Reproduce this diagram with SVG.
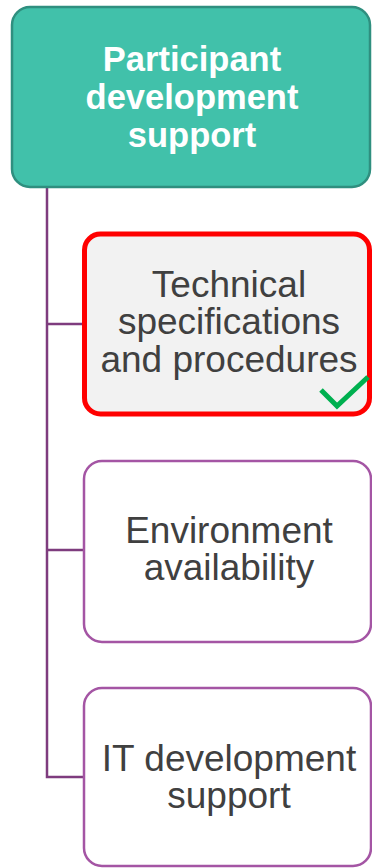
<svg xmlns="http://www.w3.org/2000/svg" width="372" height="868" viewBox="0 0 372 868">
<style>
.conn{fill:none;stroke:#7E3C7E;stroke-width:2.5}
.child{fill:#FFFFFF;stroke:#A455A4;stroke-width:2.5}
.t{font-family:"Liberation Sans",Arial,sans-serif;font-size:37px;fill:#404040;text-anchor:middle}
.h{font-family:"Liberation Sans",Arial,sans-serif;font-size:34.5px;font-weight:bold;fill:#FFFFFF;text-anchor:middle}
</style>
<rect width="372" height="868" fill="#FFFFFF"/>
<g id="connectors">
<path class="conn" d="M47,188 V777 H84"/>
<path class="conn" d="M47,324 H84"/>
<path class="conn" d="M47,550 H84"/>
</g>
<g id="root">
<rect x="12" y="7" width="358" height="180" rx="18" fill="#41C1AA" stroke="#2F8F7F" stroke-width="2.5"/>
<text class="h" x="192" y="71">Participant</text>
<text class="h" x="192" y="109">development</text>
<text class="h" x="192" y="147">support</text>
</g>
<g id="node-technical">
<rect x="84.5" y="234" width="285" height="180" rx="16" fill="#F2F2F2" stroke="#FF0000" stroke-width="5"/>
<text class="t" x="229" y="297">Technical</text>
<text class="t" x="229" y="334">specifications</text>
<text class="t" x="229" y="372">and procedures</text>
<path d="M321,390 L337,406 L368,377" fill="none" stroke="#00B050" stroke-width="5"/>
</g>
<g id="node-environment">
<rect class="child" x="84" y="461" width="287" height="181" rx="18"/>
<text class="t" x="229" y="543">Environment</text>
<text class="t" x="229" y="580">availability</text>
</g>
<g id="node-it">
<rect class="child" x="84" y="688" width="287" height="178" rx="18"/>
<text class="t" x="229" y="771">IT development</text>
<text class="t" x="229" y="808">support</text>
</g>
</svg>
